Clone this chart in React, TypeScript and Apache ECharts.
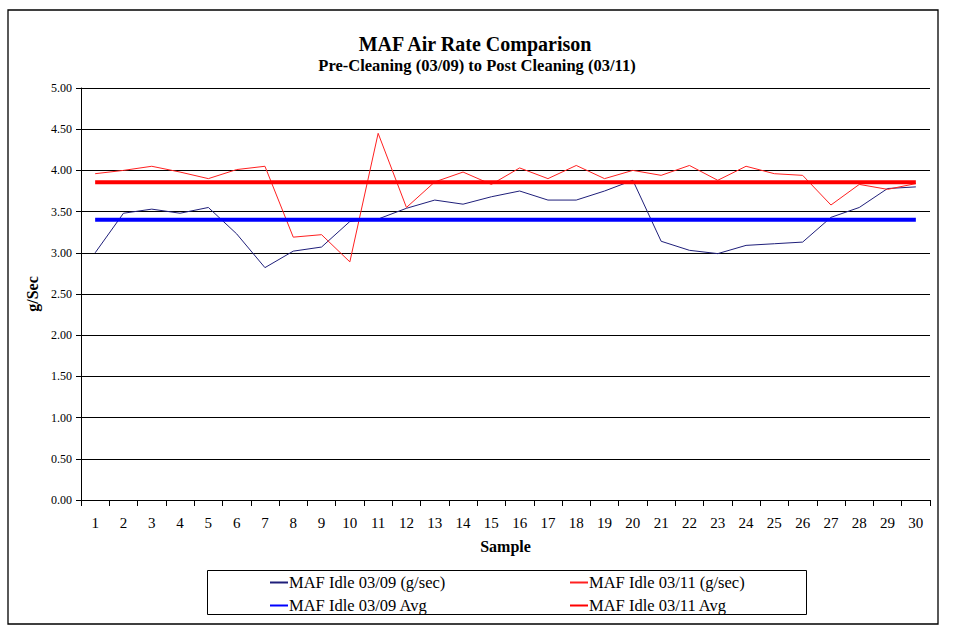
import React, { useEffect, useRef } from "react";
import * as echarts from "echarts";

const categories = ["1","2","3","4","5","6","7","8","9","10","11","12","13","14","15","16","17","18","19","20","21","22","23","24","25","26","27","28","29","30"];
const idle0309 = [3.00,3.48,3.53,3.48,3.55,3.23,2.82,3.02,3.07,3.38,3.41,3.54,3.64,3.59,3.68,3.75,3.64,3.64,3.75,3.88,3.14,3.03,2.99,3.09,3.11,3.13,3.43,3.55,3.78,3.80];
const idle0311 = [3.96,4.00,4.05,3.98,3.90,4.01,4.05,3.19,3.22,2.89,4.45,3.55,3.86,3.98,3.83,4.03,3.90,4.06,3.90,4.00,3.94,4.06,3.88,4.05,3.96,3.94,3.58,3.83,3.77,3.84];
const avg0309 = 3.40;
const avg0311 = 3.855;
const yTicks = [0, 0.5, 1, 1.5, 2, 2.5, 3, 3.5, 4, 4.5, 5];

const SERIF = "'Liberation Serif', 'DejaVu Serif', serif";

export default function App() {
  const ref = useRef<HTMLDivElement>(null);
  useEffect(() => {
    if (!ref.current) return;
    const chart = echarts.init(ref.current, null, { renderer: "svg" });
    const names = ["MAF Idle 03/09 (g/sec)", "MAF Idle 03/11 (g/sec)", "MAF Idle 03/09 Avg", "MAF Idle 03/11 Avg"];
    const legendCommon = {
      orient: "vertical", top: 569, itemWidth: 18, itemHeight: 14, itemGap: 6,
      itemStyle: { opacity: 0 },
      textStyle: { fontFamily: SERIF, fontSize: 16.5, color: "#000", padding: [0, 0, 0, -4] }, selectedMode: false,
    };
    chart.setOption({
      animation: false,
      backgroundColor: "#ffffff",
      textStyle: { fontFamily: SERIF },
      graphic: [
        { type: "rect", shape: { x: 8, y: 10, width: 930, height: 614 }, style: { fill: "none", stroke: "#000", lineWidth: 1.3 }, silent: true },
        { type: "rect", shape: { x: 207.5, y: 570.5, width: 599, height: 44 }, style: { fill: "none", stroke: "#000", lineWidth: 1 }, silent: true },
        { type: "text", x: 475, y: 44, style: { text: "MAF Air Rate Comparison", font: `bold 20px ${SERIF}`, fill: "#000", textAlign: "center", textVerticalAlign: "middle" } },
        { type: "text", x: 477, y: 65, style: { text: "Pre-Cleaning (03/09) to Post Cleaning (03/11)", font: `bold 16.5px ${SERIF}`, fill: "#000", textAlign: "center", textVerticalAlign: "middle" } },
      ],
      legend: [
        { ...legendCommon, data: [names[0], names[2]], left: 264 },
        { ...legendCommon, data: [names[1], names[3]], left: 564 },
      ],
      grid: { left: 81, right: 25, top: 88, bottom: 135, containLabel: false },
      xAxis: {
        type: "category",
        data: categories,
        boundaryGap: true,
        name: "Sample",
        nameLocation: "middle",
        nameGap: 38,
        nameTextStyle: { fontFamily: SERIF, fontSize: 16, fontWeight: "bold", color: "#000" },
        axisLine: { lineStyle: { color: "#000", width: 1 } },
        axisTick: { show: true, length: 6, interval: 0, lineStyle: { color: "#000" } },
        axisLabel: { interval: 0, margin: 15, fontFamily: SERIF, fontSize: 15, color: "#000" },
      },
      yAxis: {
        type: "value",
        min: yTicks[0],
        max: yTicks[yTicks.length - 1],
        interval: 0.5,
        name: "g/Sec",
        nameLocation: "middle",
        nameGap: 40,
        nameTextStyle: { fontFamily: SERIF, fontSize: 16, fontWeight: "bold", color: "#000" },
        axisLine: { show: true, lineStyle: { color: "#000", width: 1 } },
        axisTick: { show: true, length: 5, lineStyle: { color: "#000" } },
        axisLabel: { margin: 9, fontFamily: SERIF, fontSize: 12, color: "#000", formatter: (v: number) => v.toFixed(2) },
        splitLine: { show: true, lineStyle: { color: "#000", width: 1 } },
      },
      series: [
        { name: names[0], type: "line", data: idle0309, symbol: "none", lineStyle: { color: "#1f1f7a", width: 1 }, itemStyle: { color: "#1f1f7a" } },
        { name: names[1], type: "line", data: idle0311, symbol: "none", lineStyle: { color: "#ff2020", width: 1 }, itemStyle: { color: "#ff2020" } },
        { name: names[2], type: "line", data: categories.map(() => avg0309), symbol: "none", lineStyle: { color: "#0000ff", width: 4 }, itemStyle: { color: "#0000ff" } },
        { name: names[3], type: "line", data: categories.map(() => avg0311), symbol: "none", lineStyle: { color: "#ff0000", width: 4 }, itemStyle: { color: "#ff0000" } },
      ],
    });
    return () => chart.dispose();
  }, []);
  return <div ref={ref} style={{ position: "fixed", left: 0, top: 0, width: 955, height: 635 }} />;
}
